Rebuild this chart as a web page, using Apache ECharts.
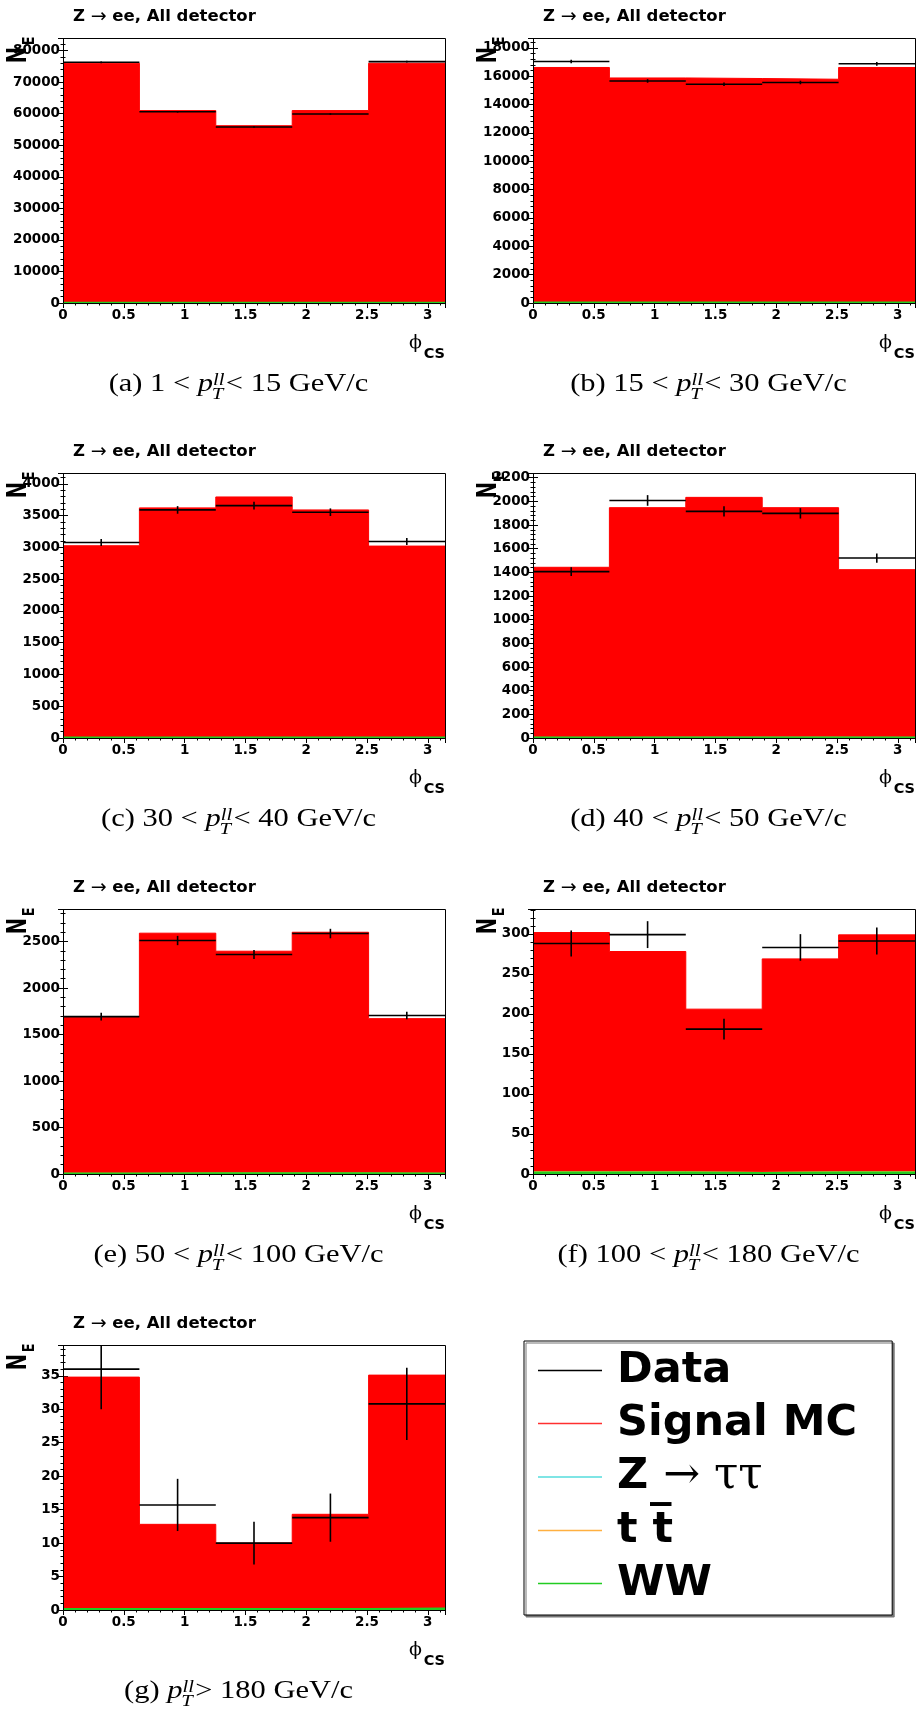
<!DOCTYPE html>
<html><head><meta charset="utf-8">
<script src="https://cdn.jsdelivr.net/npm/echarts@6/dist/echarts.min.js"></script>
<style>html,body{margin:0;padding:0;background:#fff;}#c{width:917px;height:1714px;}</style>
</head><body><div id="c"></div>
<script>
// ---- data ----
const PHI_EDGES = [0, 0.6283, 1.2566, 1.8850, 2.5133, 3.1416];
const PANEL_TAGS = ['(a)', '(b)', '(c)', '(d)', '(e)', '(f)', '(g)'];
const PT_LOW = ['1', '15', '30', '40', '50', '100', '180'];
const PT_HIGH = ['15', '30', '40', '50', '100', '180', null];
const Y_MAX = [84000, 18700, 4170, 2240, 2850, 331, 39.6];
const Y_STEP = [10000, 2000, 500, 200, 500, 50, 5];

const dataA = [76300, 60600, 55800, 59900, 76500];
const errA  = [276, 246, 236, 245, 277];
const mcA   = [76000, 61000, 56200, 61000, 76000];
const wwA   = [20, 18, 17, 18, 20];
const ttA   = [5, 5, 5, 5, 5];
const zttA  = [40, 35, 32, 35, 40];

const dataB = [17040, 15670, 15440, 15560, 16880];
const errB  = [130, 125, 124, 125, 130];
const mcB   = [16620, 15880, 15840, 15790, 16620];
const wwB   = [12, 11, 11, 11, 12];
const ttB   = [6, 6, 6, 6, 6];
const zttB  = [30, 28, 27, 28, 30];

const dataC = [3077, 3589, 3657, 3553, 3093];
const errC  = [55, 60, 60, 60, 56];
const mcC   = [3025, 3621, 3793, 3589, 3020];
const wwC   = [4, 4, 4, 4, 4];
const ttC   = [5, 6, 6, 6, 5];
const zttC  = [8, 9, 9, 9, 8];

const dataD = [1406, 2008, 1916, 1899, 1521];
const errD  = [37, 45, 44, 44, 39];
const mcD   = [1443, 1947, 2034, 1947, 1423];
const wwD   = [3, 3, 3, 3, 3];
const ttD   = [5, 6, 6, 6, 5];
const zttD  = [5, 6, 6, 6, 5];

const dataE = [1693, 2511, 2360, 2586, 1704];
const errE  = [41, 50, 49, 51, 41];
const mcE   = [1682, 2590, 2396, 2600, 1671];
const wwE   = [4, 5, 5, 5, 4];
const ttE   = [8, 12, 12, 12, 8];
const zttE  = [3, 4, 4, 4, 3];

const dataF = [288, 299, 181, 283, 291];
const errF  = [16.2, 16.8, 12.9, 16.6, 16.8];
const mcF   = [301.6, 277.9, 205.9, 268.7, 298.7];
const wwF   = [1.5, 1.5, 1, 1.5, 1.5];
const ttF   = [3, 3, 2, 3, 3];
const zttF  = [0.5, 0.5, 0.4, 0.5, 0.5];

const dataG = [36, 15.7, 10, 13.8, 30.8];
const errG  = [6, 3.9, 3.2, 3.6, 5.4];
const mcG   = [34.8, 12.8, 10.0, 14.3, 35.1];
const wwG   = [0.1, 0.1, 0.1, 0.1, 0.2];
const ttG   = [0.2, 0.1, 0.1, 0.1, 0.2];
const zttG  = [0, 0, 0, 0, 0];

const PANELS = [
  {data: dataA, err: errA, mc: mcA, ww: wwA, tt: ttA, ztt: zttA},
  {data: dataB, err: errB, mc: mcB, ww: wwB, tt: ttB, ztt: zttB},
  {data: dataC, err: errC, mc: mcC, ww: wwC, tt: ttC, ztt: zttC},
  {data: dataD, err: errD, mc: mcD, ww: wwD, tt: ttD, ztt: zttD},
  {data: dataE, err: errE, mc: mcE, ww: wwE, tt: ttE, ztt: zttE},
  {data: dataF, err: errF, mc: mcF, ww: wwF, tt: ttF, ztt: zttF},
  {data: dataG, err: errG, mc: mcG, ww: wwG, tt: ttG, ztt: zttG}
];

const NAME_DATA = 'Data', NAME_MC = 'Signal MC', NAME_ZTT = 'Z \u2192 \u03c4\u03c4', NAME_TT = 't t\u0305', NAME_WW = 'WW';

// ---- layout ----
const COL_L = [63, 533], GW = 382, ROW_T = [38, 473, 909, 1345], GH = 265;
const TICK_FONT = {fontFamily: 'DejaVu Sans', fontWeight: 'bold', fontSize: 13.5, color: '#000'};
const COLORS = {mc: '#ff0000', ww: '#22cc22', tt: '#ffb040', ztt: '#55dddd'};

function stepPts(vals) {
  const pts = vals.map((v, k) => [PHI_EDGES[k], v]);
  pts.push([PHI_EDGES[PHI_EDGES.length - 1], vals[vals.length - 1]]);
  return pts;
}
const fmt = v => String(v);

const grids = [], xAxes = [], yAxes = [], series = [], graphics = [];
const measureCtx = document.createElement('canvas').getContext('2d');
function tw(font, s) { measureCtx.font = font; return measureCtx.measureText(s).width; }

PANELS.forEach((p, i) => {
  const L = COL_L[i % 2], T = ROW_T[Math.floor(i / 2)], R = L + GW, B = T + GH;
  grids.push({left: L, top: T, width: GW, height: GH, containLabel: false});
  const tickCommon = {inside: true, length: 5, lineStyle: {color: '#000', width: 1}};
  const minorCommon = {show: true, splitNumber: 5, length: 2.5, lineStyle: {color: '#000', width: 1}};
  xAxes.push({gridIndex: i, type: 'value', min: 0, max: Math.PI, interval: 0.5, position: 'bottom',
    axisLine: {show: false}, axisTick: tickCommon, minorTick: minorCommon, splitLine: {show: false},
    axisLabel: Object.assign({margin: 5, showMaxLabel: false, formatter: fmt}, TICK_FONT)});
  xAxes.push({gridIndex: i, type: 'value', min: 0, max: Math.PI, interval: 0.5, position: 'top',
    axisLine: {show: false}, axisTick: tickCommon, minorTick: minorCommon, splitLine: {show: false},
    axisLabel: {show: false}});
  yAxes.push({gridIndex: i, type: 'value', min: 0, max: Y_MAX[i], interval: Y_STEP[i], position: 'left',
    axisLine: {show: false}, axisTick: tickCommon, minorTick: minorCommon, splitLine: {show: false},
    axisLabel: Object.assign({margin: 3, showMaxLabel: false, formatter: fmt}, TICK_FONT)});
  yAxes.push({gridIndex: i, type: 'value', min: 0, max: Y_MAX[i], interval: Y_STEP[i], position: 'right',
    axisLine: {show: false}, axisTick: tickCommon, minorTick: minorCommon, splitLine: {show: false},
    axisLabel: {show: false}});

  const xi = 2 * i, yi = 2 * i;
  series.push({type: 'line', name: NAME_MC, xAxisIndex: xi, yAxisIndex: yi, step: 'end', symbol: 'none',
    data: stepPts(p.mc), lineStyle: {color: COLORS.mc, width: 1}, itemStyle: {color: COLORS.mc},
    areaStyle: {color: COLORS.mc, opacity: 1}, z: 2, silent: true});
  series.push({type: 'line', name: NAME_ZTT, xAxisIndex: xi, yAxisIndex: yi, step: 'end', symbol: 'none',
    data: stepPts(p.ztt), lineStyle: {color: COLORS.ztt, width: 1}, itemStyle: {color: COLORS.ztt}, z: 3, silent: true});
  series.push({type: 'line', name: NAME_TT, xAxisIndex: xi, yAxisIndex: yi, step: 'end', symbol: 'none',
    data: stepPts(p.tt), lineStyle: {color: COLORS.tt, width: 1}, itemStyle: {color: COLORS.tt}, z: 3, silent: true});
  series.push({type: 'line', name: NAME_WW, xAxisIndex: xi, yAxisIndex: yi, step: 'end', symbol: 'none',
    data: stepPts(p.ww), lineStyle: {color: COLORS.ww, width: 2.5}, itemStyle: {color: COLORS.ww}, z: 4, silent: true});
  series.push({type: 'custom', name: NAME_DATA, xAxisIndex: xi, yAxisIndex: yi, z: 5, silent: true,
    itemStyle: {color: '#000'},
    data: p.data.map((v, k) => [PHI_EDGES[k], PHI_EDGES[k + 1], v, p.err[k]]),
    encode: {x: [0, 1], y: [2]},
    renderItem: function (params, api) {
      const lo = api.value(0), hi = api.value(1), v = api.value(2), e = api.value(3);
      const cs = params.coordSys;
      const a = api.coord([lo, v]), b = api.coord([hi, v]);
      const mid = (lo + hi) / 2;
      const t = api.coord([mid, v + e]), u = api.coord([mid, v - e]);
      const yTop = Math.max(t[1], cs.y), yBot = Math.min(u[1], cs.y + cs.height);
      return {type: 'group', children: [
        {type: 'line', shape: {x1: a[0], y1: a[1], x2: b[0], y2: b[1]}, style: {stroke: '#000', lineWidth: 1.6}},
        {type: 'line', shape: {x1: t[0], y1: yTop, x2: t[0], y2: yBot}, style: {stroke: '#000', lineWidth: 1.6}}
      ]};
    }});

  // frame
  graphics.push({type: 'rect', silent: true, z: 100, shape: {x: L + 0.5, y: T + 0.5, width: GW, height: GH},
    style: {fill: 'none', stroke: '#000', lineWidth: 1}});
  // title
  graphics.push({type: 'text', silent: true, z: 100, x: L + 10, y: T - 21,
    style: {text: '{b|Z }{a|\u2192}{b| ee, All detector}', align: 'left', verticalAlign: 'middle',
      rich: {b: {fontFamily: 'DejaVu Sans', fontWeight: 'bold', fontSize: 16.5, fill: '#000'},
             a: {fontFamily: 'DejaVu Sans', fontSize: 19, fill: '#000'}}}});
  // x title phi_CS
  graphics.push({type: 'text', silent: true, z: 100, x: R - 23, y: B + 40,
    style: {text: '\u03d5', align: 'right', verticalAlign: 'middle', font: '19px "DejaVu Serif"', fill: '#000'}});
  graphics.push({type: 'text', silent: true, z: 100, x: R, y: B + 51,
    style: {text: 'CS', align: 'right', verticalAlign: 'middle', font: 'bold 14.5px "DejaVu Sans"', fill: '#000'}});
  // y title N_E
  graphics.push({type: 'text', silent: true, z: 100, x: L - 44, y: T + 17, rotation: Math.PI / 2, scaleX: 0.75,
    style: {text: 'N', align: 'center', verticalAlign: 'middle', font: 'bold 26px "DejaVu Sans"', fill: '#000'}});
  graphics.push({type: 'text', silent: true, z: 100, x: L - 33, y: T + 3, rotation: Math.PI / 2, scaleX: 0.85,
    style: {text: 'E', align: 'center', verticalAlign: 'middle', font: 'bold 15px "DejaVu Sans"', fill: '#000'}});

  // caption
  const RF = '25px "Liberation Serif"', IF = 'italic 25px "Liberation Serif"', SF = 'italic 17px "Liberation Serif"';
  const pre = PT_HIGH[i] ? PANEL_TAGS[i] + ' ' + PT_LOW[i] + ' < ' : PANEL_TAGS[i] + ' ';
  const post = PT_HIGH[i] ? '< ' + PT_HIGH[i] + ' GeV/c' : '> ' + PT_LOW[i] + ' GeV/c';
  const wPre = tw(RF, pre), wP = tw(IF, 'p'), wSS = Math.max(tw(SF, 'll'), tw(SF, 'T')) + 1, wPost = tw(RF, post);
  const total = wPre + wP + wSS + wPost;
  let x0 = -total / 2;
  const baseMid = -8.5;
  const children = [
    {type: 'text', x: x0, y: baseMid, style: {text: pre, font: RF, align: 'left', verticalAlign: 'middle', fill: '#000'}},
    {type: 'text', x: x0 + wPre, y: baseMid, style: {text: 'p', font: IF, align: 'left', verticalAlign: 'middle', fill: '#000'}},
    {type: 'text', x: x0 + wPre + wP, y: -12, style: {text: 'll', font: SF, align: 'left', verticalAlign: 'middle', fill: '#000'}},
    {type: 'text', x: x0 + wPre + wP - 1, y: 1.5, style: {text: 'T', font: SF, align: 'left', verticalAlign: 'middle', fill: '#000'}},
    {type: 'text', x: x0 + wPre + wP + wSS, y: baseMid, style: {text: post, font: RF, align: 'left', verticalAlign: 'middle', fill: '#000'}}
  ];
  graphics.push({type: 'group', silent: true, x: L + GW / 2 - 15.5, y: B + 90, scaleX: 1.22, children: children});
});

const LEGEND_RICH = {};
LEGEND_RICH[NAME_DATA] = '{f|Data}';
LEGEND_RICH[NAME_MC] = '{f|Signal MC}';
LEGEND_RICH[NAME_ZTT] = '{f|Z }{s|\u2192 \u03c4\u03c4}';
LEGEND_RICH[NAME_TT] = '{f|t t\u0305}';
LEGEND_RICH[NAME_WW] = '{f|WW}';

const option = {
  animation: false,
  backgroundColor: '#fff',
  grid: grids, xAxis: xAxes, yAxis: yAxes, series: series,
  legend: {
    orient: 'vertical', left: 524, top: 1341,
    padding: [8, 35, 10, 14], itemGap: 10, itemWidth: 64, itemHeight: 1.5,
    backgroundColor: '#fff', borderColor: '#000', borderWidth: 1,
    shadowColor: '#777', shadowOffsetX: 2, shadowOffsetY: 2, shadowBlur: 0,
    selectedMode: false,
    data: [
      {name: NAME_DATA, icon: 'rect', itemStyle: {color: '#000', borderWidth: 0}},
      {name: NAME_MC, icon: 'rect', itemStyle: {color: '#ff3030', borderWidth: 0}},
      {name: NAME_ZTT, icon: 'rect', itemStyle: {color: COLORS.ztt, borderWidth: 0}},
      {name: NAME_TT, icon: 'rect', itemStyle: {color: COLORS.tt, borderWidth: 0}},
      {name: NAME_WW, icon: 'rect', itemStyle: {color: COLORS.ww, borderWidth: 0}}
    ],
    formatter: name => LEGEND_RICH[name],
    textStyle: {rich: {
      f: {fontFamily: 'DejaVu Sans', fontWeight: 'bold', fontSize: 43, lineHeight: 48, padding: [0, 0, 0, 10], color: '#000'},
      s: {fontFamily: 'DejaVu Serif', fontSize: 44, lineHeight: 48, color: '#000'}
    }}
  },
  graphic: {elements: graphics}
};

const chart = echarts.init(document.getElementById('c'), null, {renderer: 'canvas', width: 917, height: 1714});
chart.setOption(option);
</script>
</body></html>
